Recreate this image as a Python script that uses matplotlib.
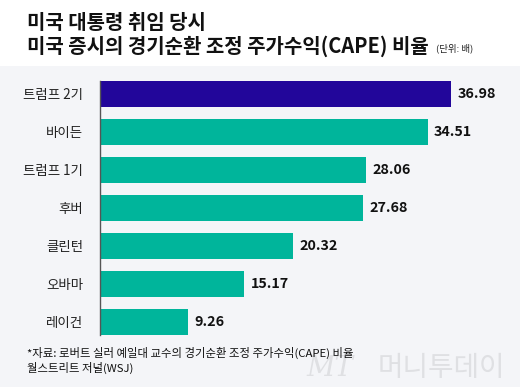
import matplotlib
matplotlib.use('Agg')
from matplotlib import pyplot as plt
from matplotlib.patches import Rectangle

plt.rcParams['font.family'] = ['Noto Sans CJK KR', 'DejaVu Sans']

# 데이터
presidents = ['트럼프 2기', '바이든', '트럼프 1기', '후버', '클린턴', '오바마', '레이건']
cape = [36.98, 34.51, 28.06, 27.68, 20.32, 15.17, 9.26]
colors = ['#22069a', '#00b59b', '#00b59b', '#00b59b', '#00b59b', '#00b59b', '#00b59b']

title1 = '미국 대통령 취임 당시'
title2 = '미국 증시의 경기순환 조정 주가수익(CAPE) 비율'
unit = '(단위: 배)'
source1 = '*자료: 로버트 실러 예일대 교수의 경기순환 조정 주가수익(CAPE) 비율'
source2 = '월스트리트 저널(WSJ)'

W, H = 520, 387
fig = plt.figure(figsize=(W / 100, H / 100), dpi=100, facecolor='#f4f5f8')
# 상단 흰 띠
fig.patches.append(Rectangle((0, 1 - 66 / H), 1, 66 / H, transform=fig.transFigure,
                             facecolor='white', edgecolor='none', zorder=0))

ax = fig.add_axes([100 / W, (H - 341) / H, 417.6 / W, 266 / H])
ax.set_facecolor('none')
ypos = range(len(cape))
ax.barh(ypos, cape, height=0.71, color=colors, edgecolor='none', zorder=2)
ax.set_xlim(0, 44)
ax.set_ylim(6.5, -0.5)
for i, v in enumerate(cape):
    ax.text(v + 0.7, i, f'{v:.2f}', va='center', ha='left', fontsize=10.3,
            fontweight='bold', color='#111111')
ax.set_yticks(list(ypos))
ax.set_yticklabels(presidents, fontsize=9.7, color='#222222')
ax.tick_params(axis='y', length=0, pad=12)
ax.set_xticks([])
for s in ['top', 'right', 'bottom']:
    ax.spines[s].set_visible(False)
ax.spines['left'].set_color('#555555')
ax.spines['left'].set_linewidth(1)
ax.spines['left'].set_bounds(-0.355, 6.355)

fig.text(27 / W, 1 - 29 / H, title1, fontsize=14.4, fontweight='bold', color='#111111')
fig.text(27 / W, 1 - 53 / H, title2, fontsize=14.4, fontweight='bold', color='#111111')
fig.text(436 / W, 1 - 51 / H, unit, fontsize=6.8, color='#222222')

# 워터마크
fig.text(306 / W, 1 - 376 / H, 'MT', fontsize=20, style='italic', color='#dfe0e3',
         family=['DejaVu Serif'])
fig.text(378 / W, 1 - 376 / H, '머니투데이', fontsize=20, fontweight='light',
         color='#dfe0e3')

fig.text(27 / W, 1 - 357 / H, source1, fontsize=8.2, color='#111111')
fig.text(27 / W, 1 - 372 / H, source2, fontsize=8.2, color='#111111')

fig.savefig('out.png', dpi=100, facecolor=fig.get_facecolor())
